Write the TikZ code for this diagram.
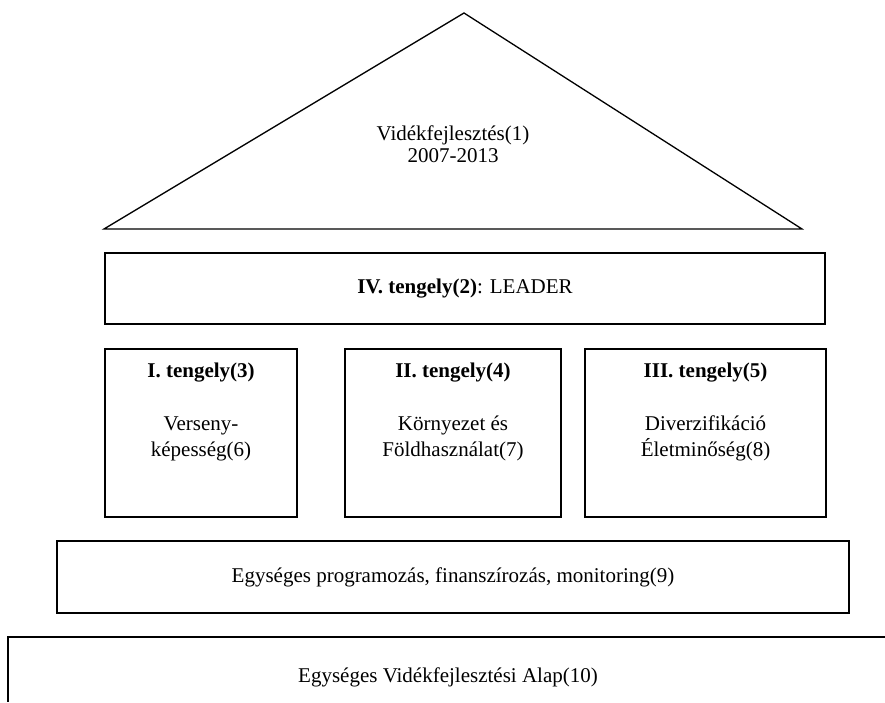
\documentclass[tikz,border=0pt]{standalone}
\usepackage{fontspec}
\setmainfont{Liberation Serif}
\usetikzlibrary{positioning}

\begin{document}
\begin{tikzpicture}[x=1pt, y=-1pt, line width=1.6pt, box/.style={rectangle, draw, inner sep=0pt, align=center}, txt/.style={align=center}]
\fontsize{21}{22}\selectfont
  \useasboundingbox (0,0) rectangle (885,702);
  % roof
  \coordinate (apex) at (464,13);
  \coordinate (roofl) at (104,229);
  \coordinate (roofr) at (802,229);
  \draw[line join=miter, line width=1.3pt] (roofl) -- (apex) -- (roofr) -- cycle;
  \node[txt] (videk) at (453,144) {Vidékfejlesztés(1)\\2007-2013};

  \node[box, minimum width=720pt, minimum height=71pt] (leader) at (465,288.5) {\textbf{IV. tengely(2)}: LEADER};

  % pillars
  \node[box, minimum width=192pt, minimum height=168pt] (ax1) at (201,433) {};
  \node[box, minimum width=216pt, minimum height=168pt] (ax2) at (453,433) {};
  \node[box, minimum width=241pt, minimum height=168pt] (ax3) at (705.5,433) {};
  \node[txt, font=\fontsize{21}{26.5}\selectfont] at (201,412) {\textbf{I. tengely(3)}\\[26.5pt]Verseny-\\képesség(6)};
  \node[txt, font=\fontsize{21}{26.5}\selectfont] at (453,412) {\textbf{II. tengely(4)}\\[26.5pt]Környezet és\\Földhasználat(7)};
  \node[txt, font=\fontsize{21}{26.5}\selectfont] at (705.5,412) {\textbf{III. tengely(5)}\\[26.5pt]Diverzifikáció\\Életminőség(8)};

  \node[box, minimum width=792pt, minimum height=72pt] (prog) at (453,577) {Egységes programozás, finanszírozás, monitoring(9)};

  % foundation
  \coordinate (basel) at (8,702);
  \coordinate (baser) at (885,637);
  \draw[line join=miter] (baser) -- (8,637) -- (basel);
  \node[txt] (alap) at (448,677) {Egységes Vidékfejlesztési Alap(10)};
\end{tikzpicture}
\end{document}
